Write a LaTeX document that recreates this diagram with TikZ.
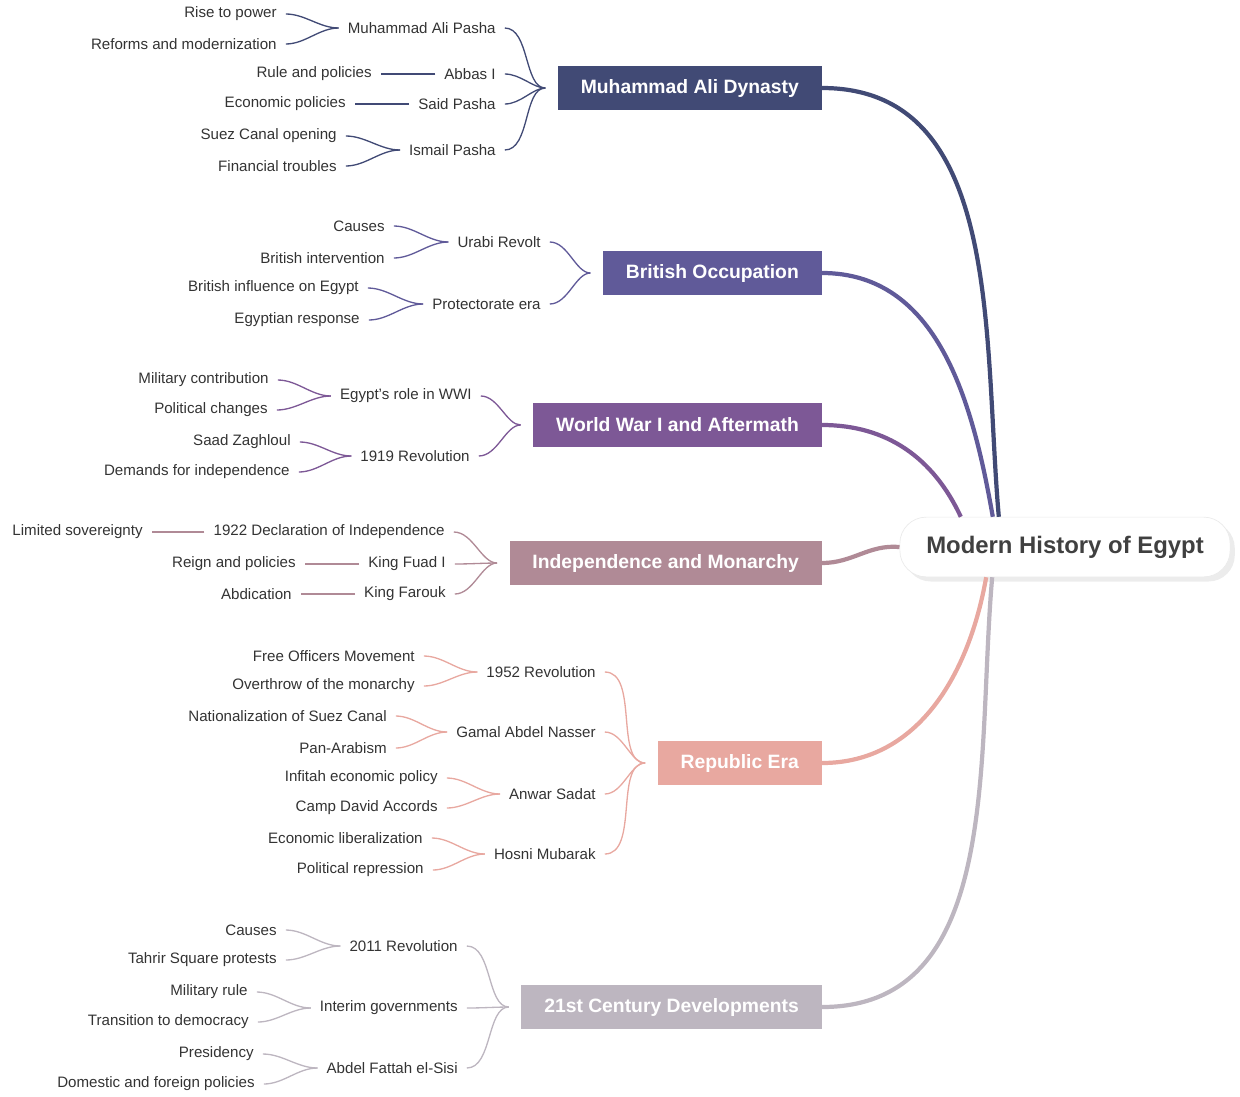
\documentclass[tikz,border=0pt]{standalone}
\usepackage{fontspec}
\setmainfont{Liberation Sans}
\usetikzlibrary{calc,shadows}
\definecolor{cdyn}{HTML}{414A75}
\definecolor{cbri}{HTML}{605A99}
\definecolor{cwar}{HTML}{7D5896}
\definecolor{cind}{HTML}{B08A96}
\definecolor{crep}{HTML}{E8A8A0}
\definecolor{ccen}{HTML}{BDB6C0}
\tikzset{
  leaf/.style={font=\fontsize{8.6}{10}\selectfont, text=black!80, inner sep=0pt},
  cat/.style={fill=#1, text=white, font=\bfseries\fontsize{11}{13}\selectfont,
    minimum height=24.5pt, inner xsep=13pt, anchor=east},
  link/.style={draw=#1, line width=0.75pt, out=180, in=0, shorten <=5pt, shorten >=5pt},
  catlink/.style={draw=#1, line width=0.75pt, out=180, in=0, shorten <=7pt, shorten >=5pt},
  trunk/.style={draw=#1, line width=2.4pt, in=0},
}
\begin{document}
\begin{tikzpicture}[x=0.02cm, y=-0.02cm]
\useasboundingbox (0,0) rectangle (1240,1096);

\node[draw=black!8, fill=white, rounded corners=15pt, drop shadow={opacity=0.15},
  minimum width=188pt, minimum height=34pt, font=\bfseries\fontsize{13.6}{15}\selectfont,
  text=black!75] (root) at (1065,547) {Modern History of Egypt};
\coordinate (rtop) at ($(root.north west)!0.3!(root.north east)$);
\coordinate (rbot) at ($(root.south west)!0.28!(root.south east)$);

% categories
\node[cat=cdyn] (dyn) at (822,88) {Muhammad Ali Dynasty};
\node[cat=cbri] (bri) at (822,273) {British Occupation};
\node[cat=cwar] (war) at (822,425) {World War I and Aftermath};
\node[cat=cind] (ind) at (822,563) {Independence and Monarchy};
\node[cat=crep] (rep) at (822,763) {Republic Era};
\node[cat=ccen] (cen) at (822,1007) {21st Century Developments};

\draw[trunk=cdyn] (rtop) to[out=95] (dyn.east);
\draw[trunk=cbri] ($(rtop)+(-6,0)$) to[out=100] (bri.east);
\draw[trunk=cwar] ($(rtop)+(-38,0)$) to[out=115] (war.east);
\draw[trunk=cind] (root.west) to[out=175] (ind.east);
\draw[trunk=crep] ($(rbot)+(-6,0)$) to[out=-100] (rep.east);
\draw[trunk=ccen] (rbot) to[out=-95] (cen.east);

% Muhammad Ali Dynasty
\node[leaf, anchor=east] (d1) at (496,28) {Muhammad Ali Pasha};
\node[leaf, anchor=east] (d2) at (496,74) {Abbas I};
\node[leaf, anchor=east] (d3) at (496,104) {Said Pasha};
\node[leaf, anchor=east] (d4) at (496,150) {Ismail Pasha};
\node[leaf, anchor=east] (d11) at (277,14) {Rise to power};
\node[leaf, anchor=east] (d12) at (277,44) {Reforms and modernization};
\node[leaf, anchor=east] (d21) at (372,74) {Rule and policies};
\node[leaf, anchor=east] (d31) at (346,104) {Economic policies};
\node[leaf, anchor=east] (d41) at (337,136) {Suez Canal opening};
\node[leaf, anchor=east] (d42) at (337,166) {Financial troubles};
\foreach \s in {d1,d2,d3,d4} \draw[catlink=cdyn] (dyn.west) to (\s.east);
\draw[link=cdyn] (d1.west) to (d11.east);
\draw[link=cdyn] (d1.west) to (d12.east);
\draw[link=cdyn] (d2.west) to (d21.east);
\draw[link=cdyn] (d3.west) to (d31.east);
\draw[link=cdyn] (d4.west) to (d41.east);
\draw[link=cdyn] (d4.west) to (d42.east);

% British Occupation
\node[leaf, anchor=east] (b1) at (541,242) {Urabi Revolt};
\node[leaf, anchor=east] (b2) at (541,304) {Protectorate era};
\node[leaf, anchor=east] (b11) at (385,226) {Causes};
\node[leaf, anchor=east] (b12) at (385,258) {British intervention};
\node[leaf, anchor=east] (b21) at (359,288) {British influence on Egypt};
\node[leaf, anchor=east] (b22) at (360,320) {Egyptian response};
\foreach \s in {b1,b2} \draw[catlink=cbri] (bri.west) to (\s.east);
\draw[link=cbri] (b1.west) to (b11.east);
\draw[link=cbri] (b1.west) to (b12.east);
\draw[link=cbri] (b2.west) to (b21.east);
\draw[link=cbri] (b2.west) to (b22.east);

% World War I and Aftermath
\node[leaf, anchor=east] (w1) at (472,396) {Egypt's role in WWI};
\node[leaf, anchor=east] (w2) at (470,456) {1919 Revolution};
\node[leaf, anchor=east] (w11) at (269,380) {Military contribution};
\node[leaf, anchor=east] (w12) at (268,410) {Political changes};
\node[leaf, anchor=east] (w21) at (291,442) {Saad Zaghloul};
\node[leaf, anchor=east] (w22) at (290,472) {Demands for independence};
\foreach \s in {w1,w2} \draw[catlink=cwar] (war.west) to (\s.east);
\draw[link=cwar] (w1.west) to (w11.east);
\draw[link=cwar] (w1.west) to (w12.east);
\draw[link=cwar] (w2.west) to (w21.east);
\draw[link=cwar] (w2.west) to (w22.east);

% Independence and Monarchy
\node[leaf, anchor=east] (i1) at (445,532) {1922 Declaration of Independence};
\node[leaf, anchor=east] (i2) at (446,564) {King Fuad I};
\node[leaf, anchor=east] (i3) at (446,594) {King Farouk};
\node[leaf, anchor=east] (i11) at (143,532) {Limited sovereignty};
\node[leaf, anchor=east] (i21) at (296,564) {Reign and policies};
\node[leaf, anchor=east] (i31) at (292,594) {Abdication};
\foreach \s in {i1,i2,i3} \draw[catlink=cind] (ind.west) to (\s.east);
\draw[link=cind] (i1.west) to (i11.east);
\draw[link=cind] (i2.west) to (i21.east);
\draw[link=cind] (i3.west) to (i31.east);

% Republic Era
\node[leaf, anchor=east] (r1) at (596,672) {1952 Revolution};
\node[leaf, anchor=east] (r2) at (596,732) {Gamal Abdel Nasser};
\node[leaf, anchor=east] (r3) at (596,794) {Anwar Sadat};
\node[leaf, anchor=east] (r4) at (596,854) {Hosni Mubarak};
\node[leaf, anchor=east] (r11) at (415,656) {Free Officers Movement};
\node[leaf, anchor=east] (r12) at (415,686) {Overthrow of the monarchy};
\node[leaf, anchor=east] (r21) at (387,716) {Nationalization of Suez Canal};
\node[leaf, anchor=east] (r22) at (387,748) {Pan-Arabism};
\node[leaf, anchor=east] (r31) at (438,778) {Infitah economic policy};
\node[leaf, anchor=east] (r32) at (438,808) {Camp David Accords};
\node[leaf, anchor=east] (r41) at (423,838) {Economic liberalization};
\node[leaf, anchor=east] (r42) at (424,870) {Political repression};
\foreach \s in {r1,r2,r3,r4} \draw[catlink=crep] (rep.west) to (\s.east);
\draw[link=crep] (r1.west) to (r11.east);
\draw[link=crep] (r1.west) to (r12.east);
\draw[link=crep] (r2.west) to (r21.east);
\draw[link=crep] (r2.west) to (r22.east);
\draw[link=crep] (r3.west) to (r31.east);
\draw[link=crep] (r3.west) to (r32.east);
\draw[link=crep] (r4.west) to (r41.east);
\draw[link=crep] (r4.west) to (r42.east);

% 21st Century Developments
\node[leaf, anchor=east] (c1) at (458,946) {2011 Revolution};
\node[leaf, anchor=east] (c2) at (458,1008) {Interim governments};
\node[leaf, anchor=east] (c3) at (458,1068) {Abdel Fattah el-Sisi};
\node[leaf, anchor=east] (c11) at (277,930) {Causes};
\node[leaf, anchor=east] (c12) at (277,960) {Tahrir Square protests};
\node[leaf, anchor=east] (c21) at (248,992) {Military rule};
\node[leaf, anchor=east] (c22) at (249,1022) {Transition to democracy};
\node[leaf, anchor=east] (c31) at (254,1054) {Presidency};
\node[leaf, anchor=east] (c32) at (255,1084) {Domestic and foreign policies};
\foreach \s in {c1,c2,c3} \draw[catlink=ccen] (cen.west) to (\s.east);
\draw[link=ccen] (c1.west) to (c11.east);
\draw[link=ccen] (c1.west) to (c12.east);
\draw[link=ccen] (c2.west) to (c21.east);
\draw[link=ccen] (c2.west) to (c22.east);
\draw[link=ccen] (c3.west) to (c31.east);
\draw[link=ccen] (c3.west) to (c32.east);

\end{tikzpicture}
\end{document}
